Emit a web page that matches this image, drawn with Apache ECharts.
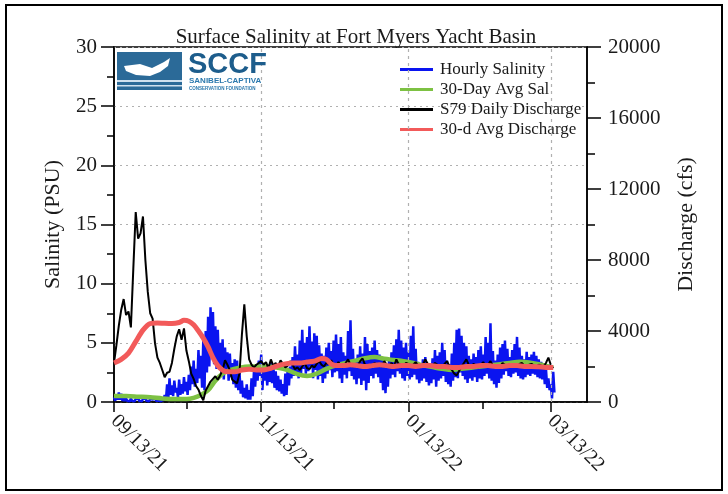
<!DOCTYPE html>
<html><head><meta charset="utf-8">
<script src="https://cdn.jsdelivr.net/npm/echarts@6.0.0/dist/echarts.min.js"></script>
<style>html,body{margin:0;padding:0;background:#fff}#c{width:728px;height:494px}</style>
</head><body><div id="c"></div>
<script>
// Days since 09/13/21
var tickDays = [0, 61, 122, 181];
var tickLabels = ['09/13/21', '11/13/21', '01/13/22', '03/13/22'];
var minorTickDays = [30, 91, 153];

// Hourly salinity, summarized as daily high / low (PSU), day 0..182
var salHigh = [0.4,0.6,0.8,0.7,0.3,0.3,0.25,0.3,0.2,0.25,0.3,0.2,0.25,0.3,0.2,0.25,0.2,0.3,0.25,0.2,0.3,0.6,
 1.5,2.0,1.4,1.8,1.2,1.9,1.5,2.1,1.7,2.3,3.0,3.5,2.8,4.4,3.9,5.2,6.0,7.2,8.0,7.6,6.4,6.1,5.0,5.3,4.6,4.2,4.1,3.3,
 3.6,3.5,2.5,1.8,1.2,1.5,1.0,2.0,2.6,3.2,3.5,4.0,3.3,3.0,2.8,3.4,3.2,2.6,2.2,1.9,1.5,2.4,2.9,3.0,3.8,4.7,4.0,5.2,
 6.1,5.0,5.5,6.4,5.1,5.8,5.6,4.8,4.1,3.9,4.6,5.0,4.3,5.2,5.7,4.9,5.5,4.2,3.9,6.0,6.9,4.5,3.6,4.0,4.7,4.1,5.5,4.9,
 4.3,4.6,5.2,4.4,4.0,3.8,3.2,3.0,3.6,4.2,4.8,5.3,6.1,5.2,4.6,5.0,4.2,5.6,6.4,4.5,3.4,3.1,3.6,3.8,3.3,3.0,3.7,4.4,
 3.9,4.2,5.0,4.4,3.5,3.2,4.1,5.0,6.1,6.2,5.6,5.0,4.7,3.9,3.6,4.1,3.8,4.4,4.7,4.0,5.5,5.0,6.65,4.3,3.5,4.0,4.6,4.9,
 5.2,4.5,3.8,4.4,4.9,5.5,4.6,3.9,3.6,4.25,3.8,4.0,4.25,3.9,3.6,3.4,3.2,2.8,2.0,1.5,2.55];
var salLow = [0.1,0.2,0.2,0.1,0.1,0.1,0.05,0.1,0.05,0.1,0.1,0.05,0.1,0.1,0.05,0.1,0.05,0.1,0.1,0.05,0.1,0.1,
 0.3,0.6,0.5,0.8,0.4,0.6,0.7,0.9,0.6,1.0,1.5,1.3,1.6,2.0,1.2,1.0,2.5,3.0,3.8,3.2,2.8,3.0,2.2,1.9,2.5,1.8,2.1,1.5,
 1.2,1.0,0.7,0.4,0.3,0.2,0.2,0.5,1.3,1.8,2.2,1.0,1.8,1.4,1.7,1.6,1.2,1.0,0.9,0.7,0.5,0.6,1.4,2.0,2.2,2.5,2.0,2.3,
 2.8,2.4,2.6,3.0,2.0,2.7,1.9,2.2,1.6,2.0,2.4,2.7,2.1,2.5,2.6,2.0,1.6,2.3,2.0,2.6,2.2,1.9,1.5,2.0,1.45,1.8,1.0,1.6,
 2.2,2.0,2.4,2.1,1.6,1.0,0.75,1.3,2.0,2.3,2.1,2.6,2.4,2.0,1.8,2.2,1.9,2.1,2.3,1.9,1.6,1.8,2.0,1.7,1.4,1.6,1.9,1.3,
 1.8,2.0,2.2,1.7,1.5,1.3,1.8,2.1,2.0,2.5,2.2,1.9,1.6,2.0,1.8,2.1,1.7,2.0,1.9,2.2,2.4,2.0,1.8,1.5,1.2,1.6,2.0,2.3,
 2.6,2.2,2.1,2.4,2.5,2.2,2.0,1.9,2.1,2.3,2.2,2.4,2.3,2.1,2.0,1.9,1.5,1.2,1.0,0.3,0.8];

// 30-day average salinity (PSU)
var avgSalDays = [0,5,10,15,20,25,30,33,36,39,42,45,48,52,56,60,64,68,72,76,80,84,88,92,96,100,104,108,112,116,120,124,128,132,136,140,144,148,152,156,160,164,168,172,176,180,182];
var avgSalVals = [0.5,0.5,0.45,0.4,0.3,0.25,0.25,0.35,0.6,1.0,1.8,2.4,2.7,2.9,3.0,3.0,3.0,2.9,2.7,2.35,2.2,2.4,2.8,3.1,3.3,3.5,3.7,3.8,3.65,3.55,3.45,3.3,3.1,2.95,2.8,2.7,2.8,2.9,3.0,3.1,3.2,3.3,3.4,3.35,3.2,3.0,2.9];

// S79 daily discharge (cfs), day 0..182
var dischargeDaily = [2200,3200,4300,5200,5800,4900,5100,4200,7500,10700,9200,9500,10450,8000,6200,5000,4700,3300,2500,2200,
 1800,1400,1650,1700,2200,3000,3700,4100,3500,4150,2900,2300,1600,1300,900,700,350,100,650,900,
 1150,1300,1450,1250,1500,1800,2350,2100,1800,1250,1150,1050,1600,3800,5500,3700,2400,2100,1950,2100,
 2200,2300,2100,2250,1900,2400,2050,2200,2000,2350,2150,1950,2050,2300,2100,1850,1950,1800,2000,2200,
 1900,1850,2050,1950,2150,2300,2100,2000,2200,2150,2350,2100,2000,2250,2050,1950,2200,2400,2100,2000,
 2150,2050,2300,2450,2100,2000,1950,2100,2200,2050,2150,2000,2300,2100,2050,2200,2000,2400,2100,1950,
 2050,2200,2150,2000,2100,2250,2050,1950,2100,2400,2150,2000,2050,2200,2100,1900,2000,2150,2300,2000,
 1800,1600,1500,1750,2000,2200,2400,2100,2000,2150,2050,1950,2100,2250,2000,2100,2300,2050,1950,2100,
 2000,2200,2100,2000,2150,2050,2100,2000,2150,2200,2050,2000,2100,2150,2050,2000,2100,2050,2000,2200,
 2500,2100,1900];

// 30-day average discharge (cfs)
var avgDisDays = [0,3,6,9,12,15,18,21,24,27,29,31,33,35,37,39,41,43,45,47,50,53,56,59,62,65,68,71,74,77,80,83,86,88,90,92,95,98,101,104,107,110,113,116,119,122,125,128,131,134,137,140,143,146,149,152,155,158,161,164,167,170,173,176,179,182];
var avgDisVals = [2200,2400,2750,3400,4050,4420,4450,4430,4420,4480,4600,4550,4350,4000,3600,3100,2500,2050,1800,1700,1700,1800,1850,1800,1800,1900,2050,2150,2200,2200,2250,2300,2450,2400,2150,2050,2050,2100,2050,2000,2050,2100,2050,2000,2050,2050,2000,2050,2050,2000,2000,1950,1950,2000,2000,2050,2050,2000,2000,2050,2050,2000,2000,1980,1950,1950];

var salSeries = [];
for (var i = 0; i < salHigh.length; i++) { salSeries.push([i, salHigh[i]]); salSeries.push([i + 0.5, salLow[i]]); }
var avgSalSeries = avgSalDays.map(function (d, k) { return [d, avgSalVals[k]]; });
var disSeries = dischargeDaily.map(function (v, k) { return [k, v]; });
var avgDisSeries = avgDisDays.map(function (d, k) { return [d, avgDisVals[k]]; });

var serif = 'Liberation Serif';
var tickStyle = { color: '#000', width: 1.5 };
var chart = echarts.init(document.getElementById('c'), null, { renderer: 'canvas' });
chart.setOption({
  animation: false,
  backgroundColor: '#fff',
  title: { text: 'Surface Salinity at Fort Myers Yacht Basin', left: 351, top: 22, textAlign: 'center',
    textStyle: { fontFamily: serif, fontSize: 21, fontWeight: 'normal', color: '#1a1a1a' } },
  grid: { left: 114, right: 141, top: 47, bottom: 92, show: true, borderColor: '#000', borderWidth: 1.5 },
  legend: { orient: 'vertical', left: 395, top: 56, itemWidth: 33, itemHeight: 3, itemGap: 3, icon: 'rect',
    textStyle: { fontFamily: serif, fontSize: 17, color: '#1a1a1a', padding: [0, 0, 0, 2] },
    data: ['Hourly Salinity', '30-Day Avg Sal', 'S79 Daily Discharge', '30-d Avg Discharge'] },
  xAxis: [{
    type: 'value', min: 0, max: 196, position: 'bottom',
    axisLine: { onZero: false, lineStyle: { color: '#000', width: 1.5 } },
    axisTick: { customValues: tickDays, length: 10, lineStyle: tickStyle },
    axisLabel: { customValues: tickDays, rotate: -45, margin: 16, fontFamily: serif, fontSize: 20, color: '#1a1a1a',
      formatter: function (v) { var k = tickDays.indexOf(v); return k >= 0 ? tickLabels[k] : ''; } },
    splitLine: { show: false }
  }, {
    type: 'value', min: 0, max: 196, position: 'bottom',
    axisLine: { show: false, onZero: false },
    axisTick: { customValues: minorTickDays, length: 7, lineStyle: tickStyle },
    axisLabel: { show: false }, splitLine: { show: false }
  }],
  yAxis: [{
    type: 'value', min: 0, max: 30, interval: 5, position: 'left',
    name: 'Salinity (PSU)', nameLocation: 'middle', nameRotate: 90, nameGap: 50,
    nameTextStyle: { fontFamily: serif, fontSize: 22, color: '#1a1a1a' },
    axisLine: { show: true, onZero: false, lineStyle: { color: '#000', width: 1.5 } },
    axisTick: { show: true, inside: false, length: 13, lineStyle: tickStyle },
    minorTick: { show: true, splitNumber: 2, length: 7, lineStyle: tickStyle },
    axisLabel: { margin: 17, fontFamily: serif, fontSize: 21, color: '#1a1a1a' },
    splitLine: { show: true, lineStyle: { color: '#b0b0b0', type: [2, 4], width: 1.2 } }
  }, {
    type: 'value', min: 0, max: 20000, interval: 4000, position: 'right',
    name: 'Discharge (cfs)', nameLocation: 'middle', nameRotate: 90, nameGap: 88,
    nameTextStyle: { fontFamily: serif, fontSize: 22, color: '#1a1a1a' },
    axisLine: { show: true, onZero: false, lineStyle: { color: '#000', width: 1.5 } },
    axisTick: { show: true, inside: false, length: 14, lineStyle: tickStyle },
    minorTick: { show: true, splitNumber: 2, length: 8, lineStyle: tickStyle },
    axisLabel: { margin: 21, fontFamily: serif, fontSize: 21, color: '#1a1a1a',
      formatter: function (v) { return String(v); } },
    splitLine: { show: false }
  }],
  graphic: [
    { type: 'rect', shape: { x: 6, y: 5, width: 716, height: 485 }, style: { fill: 'none', stroke: '#000', lineWidth: 2 }, z: 100 },
    { type: 'rect', shape: { x: 117, y: 52, width: 65, height: 38 }, style: { fill: '#2b6a98' }, z: 50 },
    { type: 'polygon', shape: { points: [[124, 66], [140, 64], [152, 68], [164, 62], [170, 58], [168, 66], [160, 72], [150, 76], [136, 75], [126, 71]] }, style: { fill: '#ffffff' }, z: 51 },
    { type: 'rect', shape: { x: 117, y: 80, width: 65, height: 2 }, style: { fill: '#cfe0ee' }, z: 51 },
    { type: 'rect', shape: { x: 117, y: 85, width: 65, height: 1.5 }, style: { fill: '#cfe0ee' }, z: 51 },
    { type: 'text', x: 188, y: 50, style: { text: 'SCCF', font: 'bold 29px "Liberation Sans"', fill: '#1d5d8c' }, z: 51 },
    { type: 'text', x: 189, y: 77, style: { text: 'SANIBEL-CAPTIVA', font: 'bold 8px "Liberation Sans"', fill: '#2a78ad' }, z: 51 },
    { type: 'text', x: 189, y: 86, style: { text: 'CONSERVATION FOUNDATION', font: 'bold 4.5px "Liberation Sans"', fill: '#2a78ad' }, z: 51 }
  ],
  series: [
    { name: 'Hourly Salinity', type: 'line', xAxisIndex: 0, yAxisIndex: 0, data: salSeries, symbol: 'none',
      lineStyle: { color: '#0a14f0', width: 2.5 }, itemStyle: { color: '#0a14f0' }, z: 2,
      markLine: { silent: true, symbol: 'none', label: { show: false },
        lineStyle: { color: '#b0b0b0', type: [3, 4], width: 1.2 },
        data: [{ xAxis: tickDays[1] }, { xAxis: tickDays[2] }, { xAxis: tickDays[3] }] } },
    { name: '30-Day Avg Sal', type: 'line', xAxisIndex: 0, yAxisIndex: 0, data: avgSalSeries, symbol: 'none', smooth: 0.3,
      lineStyle: { color: '#7dc143', width: 4.5 }, itemStyle: { color: '#7dc143' }, z: 3 },
    { name: 'S79 Daily Discharge', type: 'line', xAxisIndex: 0, yAxisIndex: 1, data: disSeries, symbol: 'none',
      lineStyle: { color: '#000', width: 2 }, itemStyle: { color: '#000' }, z: 4 },
    { name: '30-d Avg Discharge', type: 'line', xAxisIndex: 0, yAxisIndex: 1, data: avgDisSeries, symbol: 'none', smooth: 0.3,
      lineStyle: { color: '#f25a5a', width: 5 }, itemStyle: { color: '#f25a5a' }, z: 5 }
  ]
});
</script></body></html>
